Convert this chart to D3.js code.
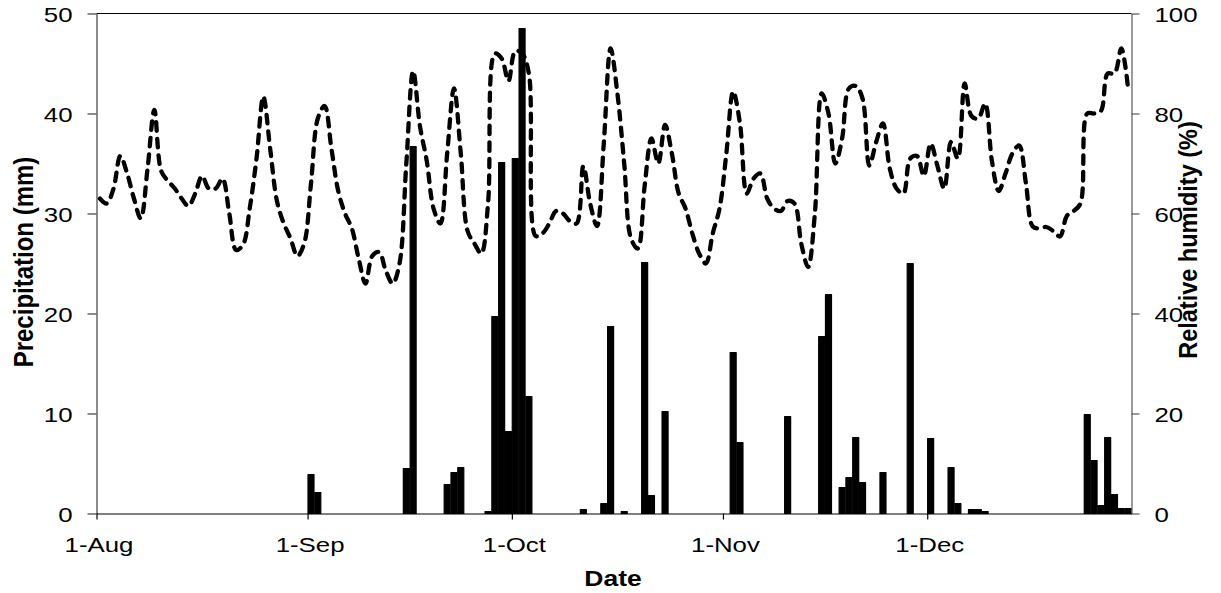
<!DOCTYPE html>
<html><head><meta charset="utf-8">
<script src="https://cdn.jsdelivr.net/npm/d3@7"></script>
<style>html,body{margin:0;padding:0;background:#fff;} svg{display:block;font-family:"Liberation Sans",Arial,sans-serif;}</style>
</head><body><svg id="chart" width="1221" height="593"></svg>
<script>
// ---- data ----
const startDate = "2010-08-01";
// daily relative humidity (%) from 1-Aug to 30-Dec
const humidity = [
  63, 62, 65, 71.5, 68, 63, 59, 69, 80.7, 68.5,
  66.5, 65, 63, 61.5, 64, 67.5, 65, 65, 67, 60,
  52.7, 53.7, 61, 71, 83.4, 73, 62.5, 58, 55, 51.5,
  54, 66, 79, 81.5, 73, 64.5, 60, 57, 51, 46,
  51.5, 52.3, 48.5, 46, 50, 70, 88.5, 77.5, 70.5, 61,
  58, 72, 85, 72, 56.5, 54, 52, 62, 92, 91,
  86.5, 92.5, 92, 88, 55.5, 56, 58, 60.5, 60, 58.5,
  58, 69.5, 62, 57.5, 74, 93, 84, 70, 55, 53,
  65.5, 75, 70, 77.7, 72, 64, 61, 56, 52, 50,
  56, 61, 72, 84.4, 78, 64, 67, 68, 63, 61,
  60.5, 62.5, 62, 54, 49.3, 60, 84, 80, 70, 75,
  85, 85.5, 83, 69.6, 74.3, 78, 69, 65, 64, 71,
  71.5, 67.5, 74, 69.5, 65, 74.3, 71, 86, 79.5, 79,
  82, 70.5, 64.5, 68, 72, 73.6, 66, 57.4, 57, 57.3,
  56.5, 55.4, 59.5, 60.5, 62, 80, 80, 80.5, 88, 88,
  93, 85
];
const precipDates = [
  "2010-09-01","2010-09-02","2010-09-15","2010-09-16","2010-09-21","2010-09-22","2010-09-23",
  "2010-09-27","2010-09-28","2010-09-29","2010-09-30","2010-10-01","2010-10-02","2010-10-03",
  "2010-10-11","2010-10-14","2010-10-15","2010-10-17","2010-10-20","2010-10-21","2010-10-23",
  "2010-11-02","2010-11-03","2010-11-10","2010-11-15","2010-11-16","2010-11-18","2010-11-19",
  "2010-11-20","2010-11-21","2010-11-24","2010-11-28","2010-12-01","2010-12-04","2010-12-05",
  "2010-12-07","2010-12-08","2010-12-09","2010-12-24","2010-12-25","2010-12-26","2010-12-27",
  "2010-12-28","2010-12-29","2010-12-30"
];
const precipValues = [
  3.9, 2.1, 4.5, 36.7, 2.9, 4.1, 4.6,
  0.2, 19.7, 35.1, 8.2, 35.5, 48.5, 11.7,
  0.4, 1.0, 18.7, 0.2, 25.1, 1.8, 10.2,
  16.1, 7.1, 9.7, 17.7, 21.9, 2.6, 3.6,
  7.6, 3.1, 4.1, 25.0, 7.5, 4.6, 1.0,
  0.4, 0.4, 0.2, 9.9, 5.3, 0.8, 7.6,
  1.9, 0.5, 0.5
];
const axisStart = "2010-08-01", axisEnd = "2010-12-31";
const tickDates = ["2010-08-01","2010-09-01","2010-10-01","2010-11-01","2010-12-01"];
const tickLabels = ["1-Aug","1-Sep","1-Oct","1-Nov","1-Dec"];
const precipTicks = [0,10,20,30,40,50];
const humidityTicks = [0,20,40,60,80,100];

// ---- drawing ----
const parse = d3.timeParse("%Y-%m-%d");
const svg = d3.select("#chart");
const m = {left:96.5, right:1131.5, top:13.5, bottom:513.5};
const sx = 1.23;
const x = d3.scaleTime().domain([parse(axisStart), parse(axisEnd)]).range([m.left, m.right]);
const yL = d3.scaleLinear().domain([0,50]).range([m.bottom, m.top]);
const yR = d3.scaleLinear().domain([0,100]).range([m.bottom, m.top]);
const mid = d => (x(d) + x(d3.timeDay.offset(d,1))) / 2;
const dayW = d => x(d3.timeDay.offset(d,1)) - x(d);

// bars
svg.append("g").selectAll("rect").data(precipDates.map((d,i)=>({d:parse(d), v:precipValues[i]})))
  .join("rect")
  .attr("x", p => mid(p.d) - dayW(p.d)*0.44)
  .attr("width", p => dayW(p.d)*0.88)
  .attr("y", p => yL(p.v))
  .attr("height", p => yL(0) - yL(p.v))
  .attr("fill", "#000").attr("stroke", "#000").attr("stroke-width", 1.2).attr("stroke-linejoin","round");

// humidity line
const s0 = parse(startDate);
const pts = humidity.map((v,i)=>({d:d3.timeDay.offset(s0,i), v}));
svg.append("path").datum(pts)
  .attr("fill","none").attr("stroke","#000").attr("stroke-width",4.3)
  .attr("stroke-dasharray","8.5,8").attr("stroke-linecap","round")
  .attr("d", d3.line().x(p=>mid(p.d)).y(p=>yR(p.v)).curve(d3.curveCatmullRom.alpha(0.5)));

// frame top line
svg.append("line").attr("x1",m.left).attr("x2",m.right).attr("y1",m.top).attr("y2",m.top)
  .attr("stroke","#000").attr("stroke-width",1.2);

function styleAxis(g, col){
  g.select(".domain").attr("stroke",col).attr("stroke-width",1.2);
  g.selectAll(".tick line").attr("stroke",col).attr("stroke-width",1.2);
  g.selectAll("text").attr("font-family",'"Liberation Sans",Arial,sans-serif').attr("font-size",21).attr("fill","#000");
}
const gL = svg.append("g").attr("transform",`translate(${m.left},0)`)
  .call(d3.axisLeft(yL).tickValues(precipTicks).tickSize(9).tickSizeOuter(0).tickPadding(15));
styleAxis(gL,"#404040");
gL.selectAll(".tick text").attr("x",-24/sx).attr("dy","0.38em").attr("transform",`scale(${sx},1)`);

const gR = svg.append("g").attr("transform",`translate(${m.right},0)`)
  .call(d3.axisRight(yR).tickValues(humidityTicks).tickSize(8).tickSizeOuter(0).tickPadding(15));
styleAxis(gR,"#595959");
gR.selectAll(".tick text").attr("x",23/sx).attr("dy","0.38em").attr("transform",`scale(${sx},1)`);

const gB = svg.append("g").attr("transform",`translate(0,${m.bottom})`)
  .call(d3.axisBottom(x).tickValues(tickDates.map(parse)).tickFormat((d,i)=>tickLabels[i]).tickSize(6).tickSizeOuter(0));
styleAxis(gB,"#000");
gB.selectAll(".tick text").attr("x",2/sx).attr("y",38.5).attr("dy",0).attr("transform",`scale(${sx},1)`);

// titles
svg.append("text").attr("transform",`translate(613,586) scale(${sx},1)`).attr("text-anchor","middle")
  .attr("font-weight","bold").attr("font-size",21.5).text("Date");
svg.append("text").attr("transform","translate(33,262) rotate(-90) scale(1,1.15)").attr("text-anchor","middle")
  .attr("font-weight","bold").attr("font-size",24).text("Precipitation (mm)");
svg.append("text").attr("transform","translate(1197,240) rotate(-90) scale(1,1.1)").attr("text-anchor","middle")
  .attr("font-weight","bold").attr("font-size",23.5).text("Relative humidity (%)");
</script></body></html>
